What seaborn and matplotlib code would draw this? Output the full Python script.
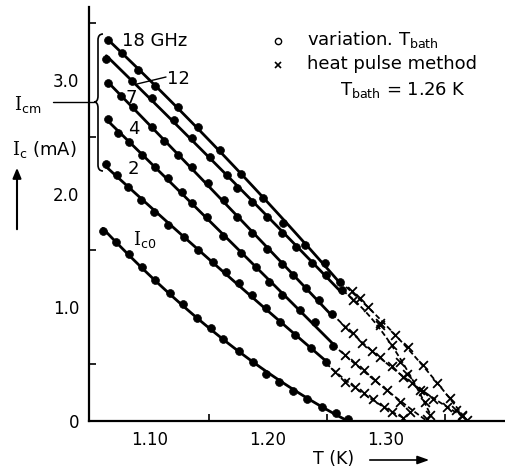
import numpy as np
import pandas as pd
import matplotlib
matplotlib.use("Agg")
import matplotlib.pyplot as plt
import seaborn as sns
from matplotlib.path import Path
from matplotlib.patches import PathPatch
from matplotlib.lines import Line2D

sns.set_style("white")
plt.rcParams['font.family'] = ['DejaVu Sans']
plt.rcParams['mathtext.fontset'] = 'custom'
plt.rcParams['mathtext.rm'] = 'DejaVu Serif'
plt.rcParams['mathtext.sf'] = 'DejaVu Sans'
plt.rcParams['mathtext.it'] = 'DejaVu Serif:italic'
plt.rcParams['text.color'] = 'black'
plt.rcParams['xtick.color'] = 'black'
plt.rcParams['ytick.color'] = 'black'
plt.rcParams['axes.labelcolor'] = 'black'

# ---------------- data (T in K, Ic in mA) ----------------
ic0_T = [1.060, 1.071, 1.082, 1.093, 1.104, 1.117, 1.128, 1.140, 1.152, 1.162,
         1.175, 1.187, 1.198, 1.209, 1.221, 1.233, 1.246, 1.258, 1.268]
ic0_I = [1.67, 1.57, 1.47, 1.35, 1.24, 1.13, 1.03, 0.91, 0.82, 0.72,
         0.62, 0.52, 0.41, 0.34, 0.26, 0.19, 0.12, 0.07, 0.02]

f2_T = [1.063, 1.072, 1.081, 1.092, 1.103, 1.115, 1.129, 1.141, 1.153, 1.164,
        1.175, 1.186, 1.198, 1.210, 1.223, 1.236, 1.249]
f2_I = [2.26, 2.16, 2.06, 1.94, 1.84, 1.72, 1.62, 1.50, 1.40, 1.31,
        1.21, 1.11, 0.99, 0.87, 0.76, 0.64, 0.52]
f2_xT = [1.257, 1.265, 1.274, 1.281, 1.289, 1.298, 1.305, 1.314]
f2_xI = [0.43, 0.34, 0.30, 0.25, 0.19, 0.12, 0.08, 0.03]

f4_T = [1.064, 1.073, 1.082, 1.093, 1.104, 1.115, 1.127, 1.136, 1.148, 1.162,
        1.177, 1.190, 1.201, 1.212, 1.227, 1.240, 1.255]
f4_I = [2.66, 2.53, 2.45, 2.34, 2.23, 2.14, 2.01, 1.92, 1.79, 1.63,
        1.48, 1.35, 1.22, 1.11, 0.98, 0.87, 0.66]
f4_xT = [1.265, 1.274, 1.281, 1.291, 1.301, 1.312, 1.320, 1.335]
f4_xI = [0.58, 0.51, 0.45, 0.36, 0.27, 0.17, 0.08, 0.02]

f7_T = [1.064, 1.075, 1.086, 1.102, 1.112, 1.124, 1.136, 1.149, 1.163, 1.174,
        1.186, 1.199, 1.212, 1.221, 1.232, 1.243, 1.254]
f7_I = [2.97, 2.86, 2.76, 2.59, 2.46, 2.34, 2.23, 2.09, 1.94, 1.79,
        1.65, 1.51, 1.38, 1.28, 1.17, 1.06, 0.94]
f7_xT = [1.265, 1.272, 1.280, 1.288, 1.295, 1.305, 1.314, 1.322, 1.331, 1.340,
         1.352, 1.359, 1.364]
f7_xI = [0.83, 0.77, 0.69, 0.62, 0.56, 0.48, 0.39, 0.33, 0.26, 0.19,
         0.12, 0.10, 0.04]

f12_T = [1.063, 1.085, 1.102, 1.120, 1.136, 1.151, 1.165, 1.174, 1.186, 1.199,
         1.212, 1.224, 1.237, 1.249, 1.263]
f12_I = [3.18, 2.99, 2.84, 2.65, 2.49, 2.32, 2.16, 2.05, 1.93, 1.79,
         1.65, 1.53, 1.39, 1.28, 1.15]
f12_xT = [1.272, 1.295, 1.305, 1.312, 1.318, 1.329, 1.333, 1.337]
f12_xI = [1.06, 0.84, 0.67, 0.52, 0.41, 0.27, 0.17, 0.05]

f18_T = [1.064, 1.076, 1.090, 1.104, 1.124, 1.141, 1.159, 1.177, 1.196, 1.213,
         1.231, 1.248, 1.261]
f18_I = [3.35, 3.24, 3.09, 2.95, 2.76, 2.59, 2.38, 2.17, 1.96, 1.74,
         1.55, 1.39, 1.22]
f18_xT = [1.271, 1.278, 1.285, 1.295, 1.308, 1.319, 1.331, 1.343, 1.354, 1.364, 1.369]
f18_xI = [1.14, 1.08, 1.00, 0.86, 0.76, 0.65, 0.49, 0.33, 0.20, 0.05, 0.01]

y_ticks = [0, 1, 2, 3]
y_ticklabels = ["0", "1.0", "2.0", "3.0"]
x_ticks = [1.10, 1.20, 1.30]
x_ticklabels = ["1.10", "1.20", "1.30"]

# ---------------- figure ----------------
W, H = 505, 470
fig = plt.figure(figsize=(W / 100, H / 100), dpi=100)
ax = fig.add_axes([89 / W, 49 / H, 416 / W, 414 / H])

def fx(px):
    return px / W

def fy(py):
    return 1 - py / H

dots = [("Ic0", ic0_T, ic0_I), ("2", f2_T, f2_I), ("4", f4_T, f4_I),
        ("7", f7_T, f7_I), ("12", f12_T, f12_I), ("18", f18_T, f18_I)]
crosses = [("2", f2_T, f2_I, f2_xT, f2_xI), ("4", f4_T, f4_I, f4_xT, f4_xI),
           ("7", f7_T, f7_I, f7_xT, f7_xI), ("12", f12_T, f12_I, f12_xT, f12_xI),
           ("18", f18_T, f18_I, f18_xT, f18_xI)]

dot_df = pd.concat([pd.DataFrame({"T": t, "Ic": i, "s": n}) for n, t, i in dots])
cross_df = pd.concat([pd.DataFrame({"T": xt, "Ic": xi, "s": n}) for n, _, _, xt, xi in crosses])

# smooth solid lines through dots
for n, t, i in dots:
    t = np.asarray(t); i = np.asarray(i)
    c = np.polyfit(t, i, 2)
    tt = np.linspace(t.min(), t.max(), 100)
    sns.lineplot(x=tt, y=np.polyval(c, tt), ax=ax, color="black", lw=2.0,
                 sort=False, estimator=None)

# dashed lines through crosses
for n, t, i, xt, xi in crosses:
    tx = np.concatenate([[t[-1]], xt]); ix = np.concatenate([[i[-1]], xi])
    c = np.polyfit(tx, ix, 2)
    tt = np.linspace(tx.min(), tx.max(), 100)
    sns.lineplot(x=tt, y=np.polyval(c, tt), ax=ax, color="black", lw=1.3,
                 sort=False, estimator=None, linestyle=(0, (3, 1.5)))

sns.scatterplot(data=dot_df, x="T", y="Ic", ax=ax, color="black", s=32,
                edgecolor="black", linewidth=0.5, legend=False, zorder=5)
sns.scatterplot(data=cross_df, x="T", y="Ic", ax=ax, color="black", s=40,
                marker="x", linewidth=1.3, legend=False, zorder=5)

ax.set_xlim(1.0483, 1.4008)
ax.set_ylim(0, 3.641)
ax.set_xlabel("")
ax.set_ylabel("")
for s in ["top", "right"]:
    ax.spines[s].set_visible(False)
for s in ["left", "bottom"]:
    ax.spines[s].set_linewidth(1.6)
    ax.spines[s].set_color("black")

ax.set_yticks(y_ticks)
ax.set_yticklabels(y_ticklabels)
ax.set_yticks([0.5, 1.5, 2.5, 3.5], minor=True)
ax.set_xticks(x_ticks)
ax.set_xticklabels(x_ticklabels)
ax.set_xticks([1.15, 1.25, 1.35], minor=True)
ax.tick_params(axis="y", which="major", direction="out", length=5, width=1.2,
               labelsize=12, pad=2, colors="black")
ax.tick_params(axis="y", which="minor", direction="in", length=5, width=1.2, left=True)
ax.tick_params(axis="x", which="major", direction="in", length=5, width=1.2,
               labelsize=12, pad=7, colors="black")
ax.tick_params(axis="x", which="minor", direction="in", length=5, width=1.2, bottom=True)

# ---------------- annotations ----------------
fs = 13
fig.text(fx(122), fy(41), "18 GHz", fontsize=fs, ha="left", va="center")
fig.text(fx(167), fy(79), "12", fontsize=fs, ha="left", va="center")
fig.add_artist(Line2D([fx(137), fx(166)], [fy(84), fy(77)], color="black", lw=1.0))
fig.text(fx(131), fy(98), "7", fontsize=fs, ha="center", va="center")
fig.text(fx(134), fy(129), "4", fontsize=fs, ha="center", va="center")
fig.text(fx(133), fy(169), "2", fontsize=fs, ha="center", va="center")
fig.text(fx(145), fy(240), r"$\mathrm{I}_{\mathsf{c0}}$", fontsize=fs, ha="center", va="center")

# brace
bx, bxl, bxe = 98, 94, 103
verts = [(bxe, 34), (bx, 34), (bx, 40), (bx, 96), (bx, 102), (bxl, 102),
         (bx, 102), (bx, 108), (bx, 165), (bx, 171), (bxe, 171)]
verts_f = [(fx(a), fy(b)) for a, b in verts]
codes = [Path.MOVETO, Path.CURVE3, Path.CURVE3, Path.LINETO, Path.CURVE3, Path.CURVE3,
         Path.CURVE3, Path.CURVE3, Path.LINETO, Path.CURVE3, Path.CURVE3]
fig.add_artist(PathPatch(Path(verts_f, codes), transform=fig.transFigure,
                         fill=False, lw=1.2, color="black"))
fig.add_artist(Line2D([fx(53), fx(94)], [fy(102), fy(102)], color="black", lw=1.0))
fig.text(fx(14), fy(105), r"$\mathrm{I}_{\mathsf{cm}}$", fontsize=fs, ha="left", va="center")
fig.text(fx(12), fy(150), r"$\mathrm{I}_{\mathsf{c}}$ (mA)", fontsize=fs, ha="left", va="center")
fig.add_artist(matplotlib.patches.FancyArrowPatch((fx(17), fy(232)), (fx(17), fy(165)),
               transform=fig.transFigure, arrowstyle="-|>,head_length=6,head_width=2.5",
               color="black", lw=1.5))

# x label with arrow
fig.text(fx(313), fy(459), "T (K)", fontsize=12.5, ha="left", va="center")
fig.add_artist(matplotlib.patches.FancyArrowPatch((fx(367), fy(460)), (fx(432), fy(460)),
               transform=fig.transFigure, arrowstyle="-|>,head_length=7,head_width=2.5",
               color="black", lw=1.2))

# legend
fig.add_artist(Line2D([fx(278)], [fy(41)], marker="o", ms=4.5, mfc="white", mec="black",
                      mew=1.0, linestyle="none"))
fig.text(fx(307), fy(40), r"variation. T$_{\mathsf{bath}}$", fontsize=fs, ha="left", va="center")
fig.add_artist(Line2D([fx(278)], [fy(65)], marker="x", ms=5, mec="black",
                      mew=1.2, linestyle="none"))
fig.text(fx(307), fy(64), "heat pulse method", fontsize=fs, ha="left", va="center")
fig.text(fx(340), fy(90), r"T$_{\mathsf{bath}}$ = 1.26 K", fontsize=fs, ha="left", va="center")

fig.savefig("out.png", dpi=100)
